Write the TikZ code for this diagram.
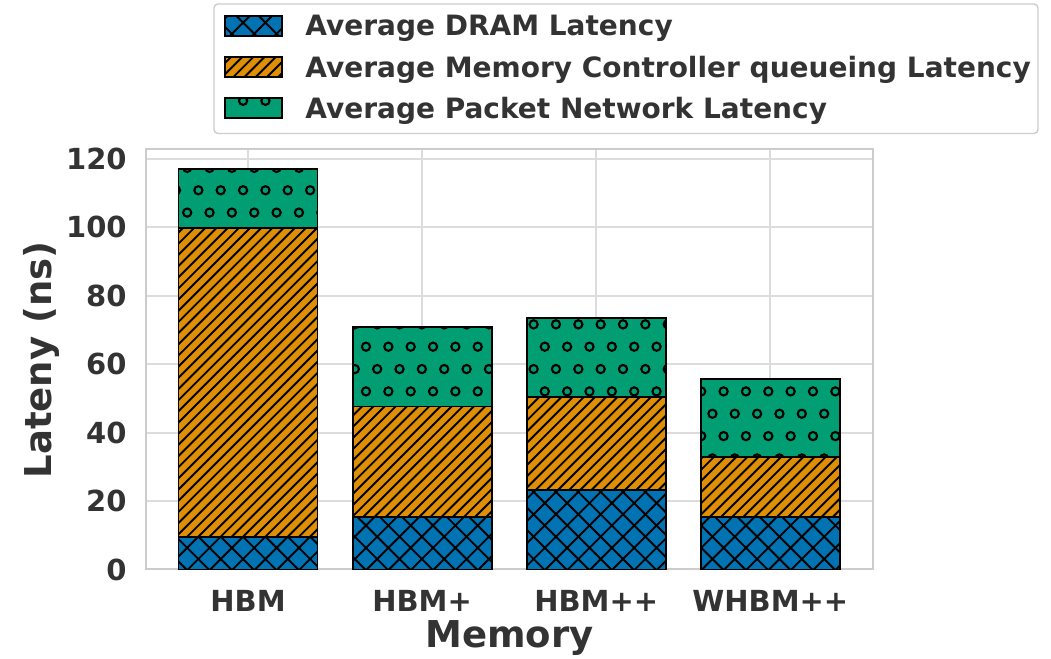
\documentclass[tikz,border=0pt]{standalone}
\usepackage{fontspec}
\setmainfont{DejaVu Sans}
\usetikzlibrary{positioning}

\definecolor{dramblue}{HTML}{0173B2}
\definecolor{mcorange}{HTML}{DE8F05}
\definecolor{netgreen}{HTML}{029E73}
\definecolor{gridgray}{HTML}{DCDCDC}
\definecolor{framegray}{HTML}{CCCCCC}
\definecolor{labelgray}{HTML}{333333}

\tikzset{
  gridline/.style={draw=gridgray, line width=1pt},
  barseg/.style={draw=black, line width=0.9pt},
  hatchline/.style={draw=black, line width=0.95pt},
  ticklabel/.style={text=labelgray, inner sep=0pt, font=\bfseries\fontsize{14.5}{16}\selectfont},
  legendlabel/.style={text=labelgray, inner sep=0pt, font=\bfseries\fontsize{14}{16}\selectfont},
  axislabel/.style={text=labelgray, inner sep=0pt, font=\bfseries\fontsize{18.5}{20}\selectfont},
}

% hatches, all on one grid so that the bars line up
\newcommand{\diaghatch}[4]{%
  \begin{scope}
    \clip (#1,#2) rectangle (#3,#4);
    \pgfmathtruncatemacro{\kmin}{floor((#1-#4-53.7)/11.175)-1}
    \pgfmathtruncatemacro{\kmax}{ceil((#3-#2-53.7)/11.175)+1}
    \foreach \k in {\kmin,...,\kmax}{
      \pgfmathsetmacro{\hc}{53.7+\k*11.175}
      \draw[hatchline] ({\hc+#2-5},{#2-5}) -- ({\hc+#4+5},{#4+5});
    }
  \end{scope}}
\newcommand{\xhatch}[4]{%
  \begin{scope}
    \clip (#1,#2) rectangle (#3,#4);
    \pgfmathtruncatemacro{\kmin}{floor((#1-#4-53.7)/22.35)-1}
    \pgfmathtruncatemacro{\kmax}{ceil((#3-#2-53.7)/22.35)+1}
    \foreach \k in {\kmin,...,\kmax}{
      \pgfmathsetmacro{\hc}{53.7+\k*22.35}
      \draw[hatchline] ({\hc+#2-5},{#2-5}) -- ({\hc+#4+5},{#4+5});
    }
    \pgfmathtruncatemacro{\kmin}{floor((#1+#2-678.3)/22.35)-1}
    \pgfmathtruncatemacro{\kmax}{ceil((#3+#4-678.3)/22.35)+1}
    \foreach \k in {\kmin,...,\kmax}{
      \pgfmathsetmacro{\hc}{678.3+\k*22.35}
      \draw[hatchline] ({\hc-#2+5},{#2-5}) -- ({\hc-#4-5},{#4+5});
    }
  \end{scope}}
\newcommand{\ohatch}[4]{%
  \begin{scope}
    \clip (#1,#2) rectangle (#3,#4);
    \pgfmathtruncatemacro{\rmin}{floor((312.3-#4)/22.35)-1}
    \pgfmathtruncatemacro{\rmax}{ceil((312.3-#2)/22.35)+1}
    \pgfmathtruncatemacro{\cmin}{floor((#1-366)/22.35)-1}
    \pgfmathtruncatemacro{\cmax}{ceil((#3-366)/22.35)+1}
    \foreach \r in {\rmin,...,\rmax}{
      \foreach \q in {\cmin,...,\cmax}{
        \draw[hatchline, line width=1.05pt] ({366+\q*22.35+11.175*Mod(\r,2)},{312.3-\r*22.35}) circle (2.05pt);
      }}
  \end{scope}}

% one stacked bar: centre, DRAM, MC queueing, packet network
\newcommand{\stackbar}[4]{%
  \pgfmathsetmacro{\xa}{#1-69.5}
  \pgfmathsetmacro{\xb}{#1+69.5}
  \pgfmathsetmacro{\ya}{89.5+3.4233*#2}
  \pgfmathsetmacro{\yb}{\ya+3.4233*#3}
  \pgfmathsetmacro{\yc}{\yb+3.4233*#4}
  \fill[dramblue] (\xa,89.5) rectangle (\xb,\ya);
  \xhatch{\xa}{89.5}{\xb}{\ya}
  \draw[barseg] (\xa,89.5) rectangle (\xb,\ya);
  \fill[mcorange] (\xa,\ya) rectangle (\xb,\yb);
  \diaghatch{\xa}{\ya}{\xb}{\yb}
  \draw[barseg] (\xa,\ya) rectangle (\xb,\yb);
  \fill[netgreen] (\xa,\yb) rectangle (\xb,\yc);
  \ohatch{\xa}{\yb}{\xb}{\yc}
  \draw[barseg] (\xa,\yb) rectangle (\xb,\yc);
}

\begin{document}
\begin{tikzpicture}[x=0.5pt,y=0.5pt]
\useasboundingbox (0,0) rectangle (1051,659);

% grid and frame
\foreach \v in {0,20,...,120}
  \draw[gridline] (145.5,{89.5+3.4233*\v}) -- (873,{89.5+3.4233*\v});
\foreach \p in {248,422.1,596.2,770.3}
  \draw[gridline] (\p,89.5) -- (\p,510.4);
\draw[framegray, line width=1pt] (145.5,89.5) rectangle (873,510.4);

% bars
\stackbar{248}{9.4}{90.3}{17.4}
\stackbar{422.1}{15.3}{32.3}{23.15}
\stackbar{596.2}{23.2}{27.1}{23.1}
\stackbar{770.3}{15.3}{17.65}{22.75}

% ticks
\foreach \v in {0,20,...,120}
  \node[ticklabel, anchor=east] (ytick\v) at (127,{89.5+3.4233*\v}) {\v};
\node[ticklabel] (xtick0) at (248,58) {HBM};
\node[ticklabel] (xtick1) at (422.1,58) {HBM+};
\node[ticklabel] (xtick2) at (596.2,58) {HBM++};
\node[ticklabel] (xtick3) at (770.3,58) {WHBM++};

% axis labels
\node[axislabel, anchor=base] (xlabel) at (509.5,11) {Memory};
\node[axislabel, anchor=base, rotate=90] (ylabel) at (51,299) {Lateny (ns)};

% legend
\draw[framegray, fill=white, line width=0.7pt, rounded corners=2pt] (214,525.5) rectangle (1038,655);
\fill[dramblue] (225,623.3) rectangle (282,643.3);
\xhatch{225}{623.3}{282}{643.3}
\draw[barseg] (225,623.3) rectangle (282,643.3);
\node[legendlabel, anchor=base west] (leg1) at (305,623.1) {Average DRAM Latency};
\fill[mcorange] (225,581.7) rectangle (282,602.3);
\diaghatch{225}{581.7}{282}{602.3}
\draw[barseg] (225,581.7) rectangle (282,602.3);
\node[legendlabel, anchor=base west] (leg2) at (305,581.8) {Average Memory Controller queueing Latency};
\fill[netgreen] (225,540.7) rectangle (282,561.3);
\ohatch{225}{540.7}{282}{561.3}
\draw[barseg] (225,540.7) rectangle (282,561.3);
\node[legendlabel, anchor=base west] (leg3) at (305,540.8) {Average Packet Network Latency};
\end{tikzpicture}
\end{document}
